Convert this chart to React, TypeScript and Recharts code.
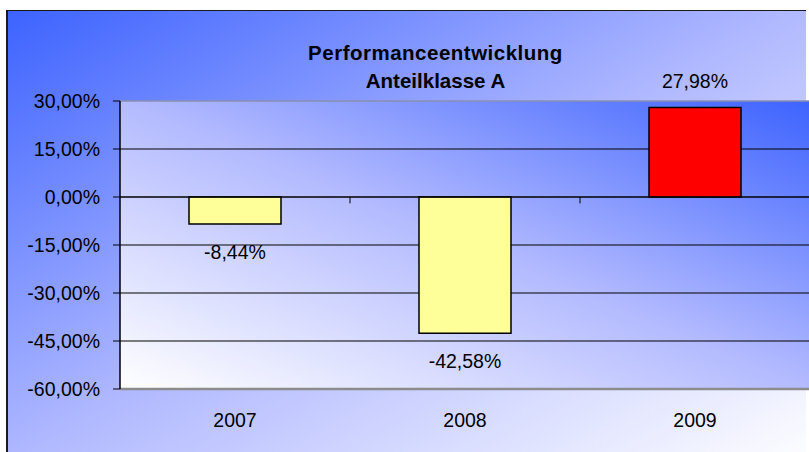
import React from 'react';
import { BarChart, Bar, XAxis, YAxis, CartesianGrid, ReferenceLine, LabelList, Cell } from 'recharts';

const years = ['2007', '2008', '2009'];
const performance = [-8.44, -42.58, 27.98];
const barColors = ['#ffff99', '#ffff99', '#ff0000'];
const yTicks = [30, 15, 0, -15, -30, -45, -60];
const gridValues = [15, 0, -15, -30, -45];
const boundaryAfter = ['2007', '2008'];
const titleLines = ['Performanceentwicklung', 'Anteilklasse A'];

const data = years.map((y, i) => ({ year: y, value: performance[i] }));

const FONT = '"Liberation Sans", Arial, sans-serif';
const fmt = (v: number) => v.toFixed(2).replace('.', ',') + '%';

const YTick = (props: any) => {
  const { x, y, payload } = props;
  return (
    <text x={x} y={y + 7} textAnchor="end" fontSize={19.5} fontFamily={FONT} fill="#000">
      {fmt(payload.value)}
    </text>
  );
};

const XTick = (props: any) => {
  const { x, y, payload } = props;
  return (
    <text x={x} y={y + 38} textAnchor="middle" fontSize={19.5} fontFamily={FONT} fill="#000">
      {payload.value}
    </text>
  );
};

const ValueLabel = (props: any) => {
  const { x, y, width, height, value } = props;
  const top = Math.min(y, y + height);
  const bottom = Math.max(y, y + height);
  const cx = x + width / 2;
  const ty = value < 0 ? bottom + 35 : top - 19.5;
  return (
    <text x={cx} y={ty} textAnchor="middle" fontSize={19.5} fontFamily={FONT} fill="#000">
      {fmt(value)}
    </text>
  );
};

export default function App() {
  return (
    <div style={{ position: 'absolute', left: 0, top: 0, width: 809, height: 452, overflow: 'hidden', background: '#fff' }}>
      <div
        style={{
          position: 'absolute',
          left: 6,
          top: 10,
          width: 798,
          height: 460,
          borderLeft: '2px solid #1a1a1a',
          borderTop: '1px solid #1a1a1a',
          background: 'linear-gradient(to bottom right, #3d63ff 0%, #b2baff 50%, #ffffff 100%)',
        }}
      />
      <div style={{ position: 'absolute', left: 0, top: 0 }}>
        <BarChart width={830} height={470} data={data} margin={{ top: 101, right: 20, bottom: 0, left: 0 }}>
          <defs>
            <linearGradient id="plotGrad" x1="0" y1="1" x2="1" y2="0">
              <stop offset="0%" stopColor="#ffffff" />
              <stop offset="50%" stopColor="#b4bbff" />
              <stop offset="100%" stopColor="#3d63ff" />
            </linearGradient>
          </defs>
          <CartesianGrid vertical={false} horizontalValues={gridValues} stroke="#000" fill="url(#plotGrad)" fillOpacity={1} />
          <XAxis dataKey="year" height={81} tickSize={0} tickMargin={0} axisLine={false} tickLine={false} tick={<XTick />} interval={0} />
          <YAxis
            type="number"
            domain={[-60, 30]}
            ticks={yTicks}
            width={120}
            tickSize={7}
            tickMargin={13}
            axisLine={{ stroke: '#000', strokeWidth: 1.5 }}
            tickLine={{ stroke: '#000' }}
            tick={<YTick />}
            interval={0}
          />
          <ReferenceLine y={30} stroke="#8a8fb0" strokeWidth={1.5} />
          <ReferenceLine y={-60} stroke="#8c8c8c" strokeWidth={2.5} />
          <ReferenceLine y={0} stroke="#000" strokeWidth={1} />
          {boundaryAfter.map((b) => (
            <ReferenceLine
              key={b}
              position="end"
              segment={[{ x: b, y: 0 }, { x: b, y: -2 }]}
              stroke="#000"
              strokeWidth={1}
            />
          ))}
          <Bar dataKey="value" barSize={92} stroke="#000" strokeWidth={1.5} isAnimationActive={false}>
            {data.map((d, i) => (
              <Cell key={d.year} fill={barColors[i]} />
            ))}
            <LabelList dataKey="value" content={<ValueLabel />} />
          </Bar>
        </BarChart>
      </div>
      <svg width={809} height={452} style={{ position: 'absolute', left: 0, top: 0, pointerEvents: 'none' }}>
        <text x={435.5} y={60} textAnchor="middle" fontSize={20.5} fontWeight="bold" fontFamily={FONT} letterSpacing={0.5} fill="#000">
          {titleLines[0]}
        </text>
        <text x={435.5} y={88} textAnchor="middle" fontSize={20.5} fontWeight="bold" fontFamily={FONT} fill="#000">
          {titleLines[1]}
        </text>
      </svg>
    </div>
  );
}
